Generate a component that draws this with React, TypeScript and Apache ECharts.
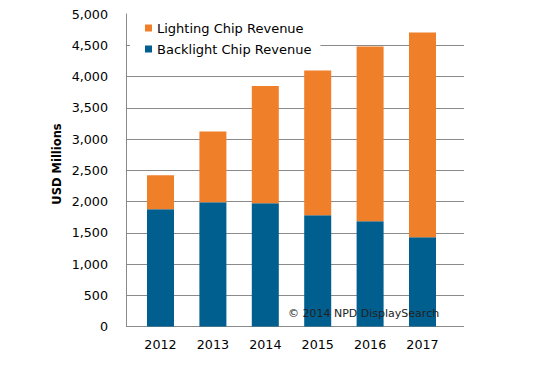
import React, { useEffect, useRef } from "react";
import * as echarts from "echarts";

const years = ["2012", "2013", "2014", "2015", "2016", "2017"];
const backlightRevenue = [1877, 1989, 1973, 1781, 1685, 1430];
const lightingRevenue = [543, 1132, 1874, 2316, 2796, 3274];
const seriesNames = ["Lighting Chip Revenue", "Backlight Chip Revenue"];
const yTitle = "USD Millions";
const copyright = "© 2014 NPD DisplaySearch";

const FONT = "'DejaVu Sans', Verdana, sans-serif";
const ORANGE = "#F07F2A";
const BLUE = "#005F8F";
const GRID_GRAY = "#8A8A8A";

export default function App() {
  const ref = useRef<HTMLDivElement>(null);

  useEffect(() => {
    if (!ref.current) return;
    const chart = echarts.init(ref.current, undefined, { renderer: "svg" });
    const top = 14;
    const bottom = 370 - 326.5;
    chart.setOption({
      animation: false,
      backgroundColor: "#fff",
      textStyle: { fontFamily: FONT },
      grid: [
        { left: 126, top, width: 338, bottom },
        { left: 134.3, top, width: 314.4, bottom },
      ],
      xAxis: [
        {
          gridIndex: 0,
          type: "value",
          min: 0,
          max: 1,
          show: true,
          axisLine: { show: false },
          axisTick: { show: false },
          axisLabel: { show: false },
          splitLine: { show: false },
        },
        {
          gridIndex: 1,
          type: "category",
          data: years,
          axisLine: { show: false },
          axisTick: { show: false },
          axisLabel: {
            color: "#000",
            fontSize: 12.7,
            fontFamily: FONT,
            margin: 11,
          },
        },
      ],
      yAxis: [
        {
          gridIndex: 0,
          type: "value",
          min: 0,
          max: 5000,
          interval: 500,
          axisLine: { show: true, lineStyle: { color: GRID_GRAY, width: 1 } },
          axisTick: { show: false },
          axisLabel: {
            color: "#000",
            fontSize: 12.7,
            fontFamily: FONT,
            margin: 18,
            formatter: (v: number) => v.toLocaleString("en-US"),
          },
          splitLine: {
            show: true,
            showMaxLine: false,
            lineStyle: { color: GRID_GRAY, width: 1 },
          },
        },
        {
          gridIndex: 1,
          type: "value",
          min: 0,
          max: 5000,
          show: false,
          splitLine: { show: false },
        },
      ],
      legend: {
        orient: "vertical",
        left: 130,
        top: 13.5,
        padding: [8, 9, 8, 15],
        backgroundColor: "#fff",
        itemWidth: 7,
        itemHeight: 7,
        itemGap: 8,
        icon: "rect",
        data: seriesNames,
        textStyle: {
          color: "#000",
          fontSize: 13,
          fontFamily: FONT,
          lineHeight: 13,
        },
      },
      graphic: [
        {
          type: "text",
          x: 57,
          y: 164,
          rotation: Math.PI / 2,
          style: {
            text: yTitle,
            fill: "#000",
            font: `bold 11.5px ${FONT}`,
            textAlign: "center",
            textVerticalAlign: "middle",
          },
        },
        {
          type: "text",
          x: 288,
          y: 313,
          z: 100,
          style: {
            text: copyright,
            fill: "#222",
            font: `11px ${FONT}`,
            textAlign: "left",
            textVerticalAlign: "middle",
          },
        },
      ],
      series: [
        {
          name: seriesNames[1],
          type: "bar",
          stack: "total",
          xAxisIndex: 1,
          yAxisIndex: 1,
          barWidth: 27,
          itemStyle: { color: BLUE },
          data: backlightRevenue,
        },
        {
          name: seriesNames[0],
          type: "bar",
          stack: "total",
          xAxisIndex: 1,
          yAxisIndex: 1,
          barWidth: 27,
          itemStyle: { color: ORANGE },
          data: lightingRevenue,
        },
      ],
    });
    return () => chart.dispose();
  }, []);

  return (
    <div
      ref={ref}
      style={{ position: "fixed", left: 0, top: 0, width: 560, height: 370 }}
    />
  );
}
